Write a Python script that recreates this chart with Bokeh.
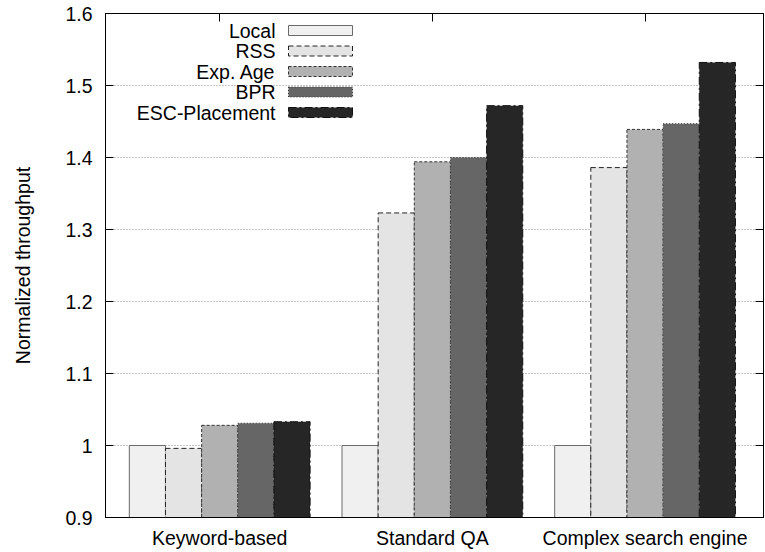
from bokeh.plotting import figure
from bokeh.models import ColumnDataSource, Range1d, FixedTicker, LinearAxis, Label, BoxAnnotation
from bokeh.transform import dodge
from bokeh.embed import file_html
from bokeh.resources import INLINE

# ---- data ----
categories = ["Keyword-based", "Standard QA", "Complex search engine"]
series_names = ["Local", "RSS", "Exp. Age", "BPR", "ESC-Placement"]
local = [1.000, 1.000, 1.000]
rss = [0.996, 1.323, 1.386]
exp_age = [1.028, 1.394, 1.439]
bpr = [1.031, 1.400, 1.447]
esc = [1.033, 1.472, 1.532]
y_ticks = [0.9, 1.0, 1.1, 1.2, 1.3, 1.4, 1.5, 1.6]
y_tick_labels = ["0.9", "1", "1.1", "1.2", "1.3", "1.4", "1.5", "1.6"]

FONT = "Liberation Sans"
FS = "19.5px"

src = ColumnDataSource(dict(x=list(range(len(categories))), local=local, rss=rss,
                            exp_age=exp_age, bpr=bpr, esc=esc))

p = figure(width=765, height=552, x_range=Range1d(-0.537, 2.557), y_range=Range1d(0.9, 1.6),
           output_backend="svg", toolbar_location=None,
           min_border_left=105, min_border_right=2, min_border_top=13, min_border_bottom=35)
p.outline_line_color = "black"
p.outline_line_width = 1
p.background_fill_color = "white"
p.border_fill_color = "white"

styles = [
    dict(col="local", fill="#f0f0f0", line="#6a6a6a", dash="solid"),
    dict(col="rss", fill="#e4e4e4", line="#222222", dash="5 3"),
    dict(col="exp_age", fill="#b1b1b1", line="#333333", dash="3 2"),
    dict(col="bpr", fill="#666666", line="#333333", dash="1 2"),
    dict(col="esc", fill="#262626", line="#111111", dash="8 3 2 3"),
]
bw = 0.17
for k, st in enumerate(styles):
    off = (k - 2) * bw
    p.vbar(x=dodge("x", off, range=p.x_range), top=st["col"], bottom=0, width=bw,
           fill_color=st["fill"], line_color=st["line"], line_dash=st["dash"], line_width=1,
           source=src)

yt = FixedTicker(ticks=y_ticks)
xt = FixedTicker(ticks=list(range(len(categories))))

# grid
p.xgrid.visible = False
p.ygrid.ticker = yt
p.ygrid.grid_line_color = "#8a8a8a"
p.ygrid.grid_line_dash = "1 2"
p.ygrid.grid_line_width = 1

# left axis
ya = p.yaxis[0]
ya.ticker = yt
ya.major_label_overrides = {t: l for t, l in zip(y_ticks, y_tick_labels)}
ya.major_tick_in = 8
ya.major_tick_out = 0
ya.minor_tick_in = 0
ya.minor_tick_out = 0
ya.major_label_standoff = 13
ya.axis_label = "Normalized throughput"
ya.axis_label_text_font = FONT
ya.axis_label_text_font_size = FS
ya.axis_label_text_font_style = "normal"
ya.axis_label_text_color = "black"
ya.axis_label_standoff = 28
ya.major_label_text_font = FONT
ya.major_label_text_font_size = FS
ya.major_label_text_color = "black"
ya.axis_line_color = "black"
ya.major_tick_line_color = "black"

# bottom axis
xa = p.xaxis[0]
xa.ticker = xt
xa.major_label_overrides = {i: c for i, c in enumerate(categories)}
xa.major_tick_in = 0
xa.major_tick_out = 0
xa.minor_tick_in = 0
xa.minor_tick_out = 0
xa.major_label_standoff = 9
xa.major_label_text_font = FONT
xa.major_label_text_font_size = FS
xa.major_label_text_color = "black"
xa.axis_line_color = "black"

# mirrored axes
ra = LinearAxis(ticker=yt, major_label_overrides={t: "" for t in y_ticks},
                major_label_text_font_size="0px", major_label_standoff=0,
                major_tick_in=8, major_tick_out=0, minor_tick_in=0, minor_tick_out=0,
                axis_line_color="black", major_tick_line_color="black")
p.add_layout(ra, "right")
ta = LinearAxis(ticker=xt, major_label_overrides={i: "" for i in range(len(categories))},
                major_label_text_font_size="0px", major_label_standoff=0,
                major_tick_in=8, major_tick_out=0, minor_tick_in=0, minor_tick_out=0,
                axis_line_color="black", major_tick_line_color="black")
p.add_layout(ta, "above")

# legend (gnuplot style: label left, swatch right)
leg_top = 487
leg_step = 20.5
for k, (name, st) in enumerate(zip(series_names, styles)):
    cy = leg_top - k * leg_step
    p.add_layout(Label(x=170, y=cy, x_units="screen", y_units="screen", text=name,
                       text_align="right", text_baseline="middle",
                       text_font=FONT, text_font_size=FS, text_color="black"))
    p.add_layout(BoxAnnotation(left=183, right=247, bottom=cy - 5, top=cy + 5,
                               left_units="screen", right_units="screen",
                               bottom_units="screen", top_units="screen",
                               fill_color=st["fill"], fill_alpha=1.0,
                               line_color=st["line"], line_dash=st["dash"], line_width=1,
                               line_alpha=1.0))

open("out.html", "w").write(file_html(p, INLINE))
